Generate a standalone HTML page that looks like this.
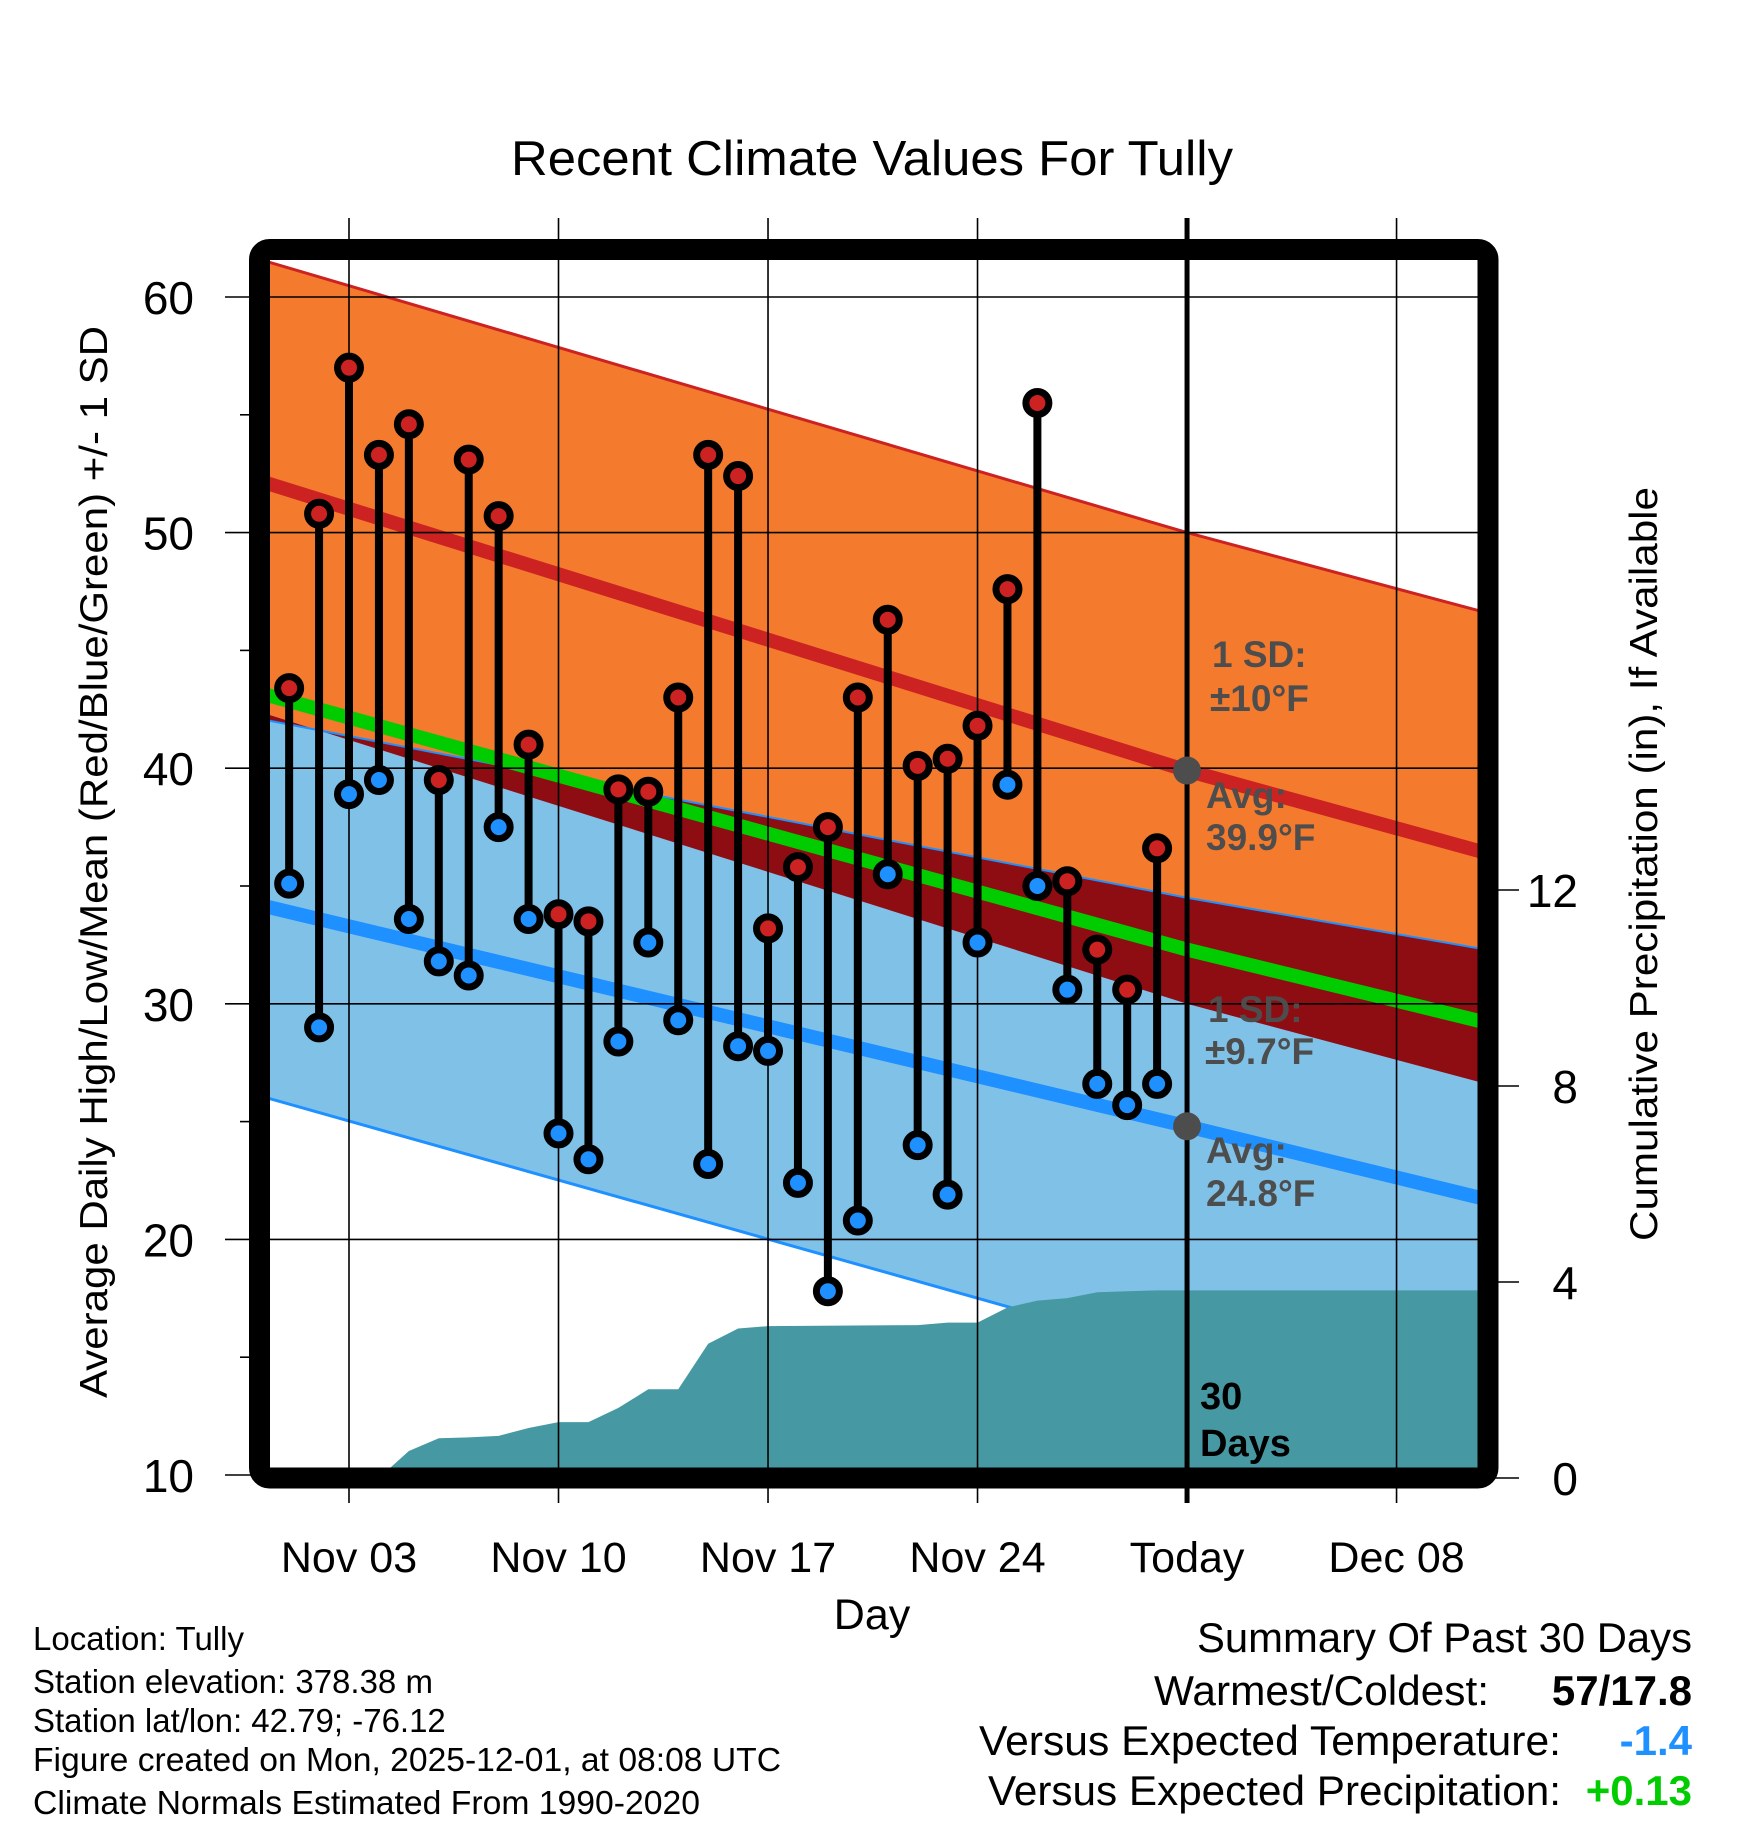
<!DOCTYPE html>
<html><head><meta charset="utf-8"><style>
html,body{margin:0;padding:0;background:#fff;}
svg{display:block;font-family:"Liberation Sans",Arial,sans-serif;}
</style></head><body>
<svg id="chart" width="1748" height="1828" viewBox="0 0 1748 1828" xmlns="http://www.w3.org/2000/svg">
<defs><clipPath id="plotclip"><rect x="259" y="249" width="1229" height="1226"/></clipPath></defs>
<g id="layers"></g>
</svg>
<script>
// ---- data ----
const days = [1,2,3,4,5,6,7,8,9,10,11,12,13,14,15,16,17,18,19,20,21,22,23,24,25,26,27,28,29,30];
const highs = [43.4,50.8,57,53.3,54.6,39.5,53.1,50.7,41.0,33.8,33.5,39.1,39.0,43.0,53.3,52.4,33.2,35.8,37.5,43.0,46.3,40.1,40.4,41.8,47.6,55.5,35.2,32.3,30.6,36.6];
const lows = [35.1,29.0,38.9,39.5,33.6,31.8,31.2,37.5,33.6,24.5,23.4,28.4,32.6,29.3,23.2,28.2,28.0,22.4,17.8,20.8,35.5,24.0,21.9,32.6,39.3,35.0,30.6,26.6,25.7,26.6];
const normDays = [0,31,41];
const normHighPlus = [61.6,50.0,46.6];
const normHigh = [52.2,39.9,36.4];
const normHighMinus = [42.4,30.0,26.6];
const normMean = [43.2,32.3,29.2];
const normLowPlus = [42.1,34.5,32.3];
const normLow = [34.2,24.8,21.7];
const normLowMinus = [26.1,15.0,11.3];
const precipDays = [4,5,6,7,8,9,10,11,12,13,14,15,16,17,22,23,24,25,26,27,28,29,30,41];
const precipCum = [0,0.55,0.81,0.83,0.86,1.02,1.14,1.14,1.43,1.81,1.81,2.74,3.05,3.10,3.12,3.17,3.17,3.48,3.62,3.67,3.79,3.81,3.83,3.83];
const yTicks = [10,20,30,40,50,60];
const yMinor = [15,25,35,45,55];
const pTicks = [0,4,8,12];
const xTickDays = [3,10,17,24,31,38];
const xTickLabels = ['Nov 03','Nov 10','Nov 17','Nov 24','Today','Dec 08'];

// ---- scales ----
const X = d => 349 + (d-3)*29.93;
const Y = v => 297 + (60-v)*23.56;
const P = p => 1478 - p*49;
const NS='http://www.w3.org/2000/svg';
const root=document.getElementById('layers');
function mk(tag,attrs,parent){const e=document.createElementNS(NS,tag);for(const k in attrs)e.setAttribute(k,attrs[k]);(parent||root).appendChild(e);return e;}
const clipG = mk('g',{'clip-path':'url(#plotclip)'});


function line(arr){return normDays.map((d,i)=>X(d)+','+Y(arr[i])).join(' ');}
function band(a,b){return normDays.map((d,i)=>X(d)+','+Y(a[i])).concat(normDays.slice().reverse().map((d,j)=>{const i=normDays.length-1-j;return X(d)+','+Y(b[i]);})).join(' ');}

let e;
e=mk('polygon',{points:band(normHighPlus,normHighMinus),fill:'#f47a2e'},clipG);


e=mk('polygon',{points:band(normLowPlus,normLowMinus),fill:'#80c1e8'},clipG);


const ovTop=normDays.map((d,i)=>Math.min(normLowPlus[i],normHighPlus[i]));
const ovBot=normDays.map((d,i)=>Math.max(normHighMinus[i],normLowMinus[i]));
e=mk('polygon',{points:band(ovTop,ovBot),fill:'#8e0d13'},clipG);


e=mk('polyline',{points:line(normHighPlus),fill:'none',stroke:'#cc2222','stroke-width':3},clipG);


e=mk('polyline',{points:line(normLowPlus),fill:'none',stroke:'#1e90ff','stroke-width':2},clipG);


e=mk('polyline',{points:line(normLowMinus),fill:'none',stroke:'#1e90ff','stroke-width':3},clipG);


e=mk('polyline',{points:line(normMean),fill:'none',stroke:'#00cc00','stroke-width':14},clipG);


e=mk('polyline',{points:line(normHigh),fill:'none',stroke:'#cc2222','stroke-width':14},clipG);


e=mk('polyline',{points:line(normLow),fill:'none',stroke:'#1e90ff','stroke-width':14},clipG);


// precip
e=mk('polygon',{points:X(0)+','+P(0)+' '+X(precipDays[0])+','+P(0)+' '+precipDays.map((d,i)=>X(d)+','+P(precipCum[i])).join(' ')+' '+X(41)+','+P(0),fill:'#4699a3'},clipG);



// gridlines
yTicks.forEach(v=>{
  e=mk('line',{x1:225,x2:1478,y1:Y(v),y2:Y(v),stroke:'#000','stroke-width':1.6});
  
  
  e=mk('text',{x:194,y:Y(v)+17,'text-anchor':'end','font-size':46});
  e.textContent=v;
  
  
});
yMinor.forEach(v=>{
  e=mk('line',{x1:240,x2:250,y1:Y(v),y2:Y(v),stroke:'#000','stroke-width':1.6});
  
  
});
pTicks.forEach(p=>{
  e=mk('line',{x1:1490,x2:1519,y1:P(p),y2:P(p),stroke:'#000','stroke-width':1.6});
  
  
  e=mk('text',{x:1578,y:P(p)+17,'text-anchor':'end','font-size':46});
  e.textContent=p;
  
  
});
xTickDays.forEach((d,i)=>{
  e=mk('line',{x1:X(d),x2:X(d),y1:218,y2:1503,stroke:'#000','stroke-width':d===31?5:1.6});
  
  
  e=mk('text',{x:X(d),y:1572,'text-anchor':'middle','font-size':43});
  e.textContent=xTickLabels[i];
  
  
});

// stems & dots
days.forEach((d,i)=>{
  e=mk('line',{x1:X(d),x2:X(d),y1:Y(highs[i]),y2:Y(lows[i]),stroke:'#000','stroke-width':8});
  
  
});
days.forEach((d,i)=>{
  [[highs[i],'#cc2222','high-point'],[lows[i],'#1e90ff','low-point']].forEach(([v,c,n])=>{
    e=mk('circle',{cx:X(d),cy:Y(v),r:11.5,fill:c,stroke:'#000','stroke-width':7});
    
    
  });
});
// today markers
[[normHigh[1]],[normLow[1]]].forEach(([v])=>{
  e=mk('circle',{cx:X(31),cy:Y(v),r:14,fill:'#4d4d4d'});
  
  
});
// frame
e=mk('rect',{x:259.5,y:249.5,width:1228.5,height:1228.5,rx:10,fill:'none',stroke:'#000','stroke-width':21});


</script>
<svg style="position:absolute;left:0;top:0" width="1748" height="1828" xmlns="http://www.w3.org/2000/svg" font-family="Liberation Sans, Arial, sans-serif">
<text x="872" y="175" text-anchor="middle" font-size="49" textLength="722" lengthAdjust="spacingAndGlyphs">Recent Climate Values For Tully</text>
<text transform="translate(107,862) rotate(-90)" text-anchor="middle" font-size="39" textLength="1072" lengthAdjust="spacingAndGlyphs">Average Daily High/Low/Mean (Red/Blue/Green) +/- 1 SD</text>
<text transform="translate(1657,864) rotate(-90)" text-anchor="middle" font-size="39" textLength="754" lengthAdjust="spacingAndGlyphs">Cumulative Precipitation (in), If Available</text>
<text x="872" y="1629" text-anchor="middle" font-size="43">Day</text>
<g font-weight="bold" font-size="37" fill="#4d4d4d">
<text x="1212" y="667">1 SD:</text>
<text x="1210" y="711">±10°F</text>
<text x="1206" y="808">Avg:</text>
<text x="1206" y="850">39.9°F</text>
<text x="1208" y="1022">1 SD:</text>
<text x="1205" y="1064">±9.7°F</text>
<text x="1206" y="1163">Avg:</text>
<text x="1206" y="1206">24.8°F</text>
</g>
<g font-weight="bold" font-size="38" fill="#000">
<text x="1200" y="1409">30</text>
<text x="1200" y="1456">Days</text>
</g>
<g font-size="33" fill="#000">
<text x="33" y="1650">Location: Tully</text>
<text x="33" y="1693">Station elevation: 378.38 m</text>
<text x="33" y="1732">Station lat/lon: 42.79; -76.12</text>
<text x="33" y="1771" textLength="748" lengthAdjust="spacingAndGlyphs">Figure created on Mon, 2025-12-01, at 08:08 UTC</text>
<text x="33" y="1814" textLength="667" lengthAdjust="spacingAndGlyphs">Climate Normals Estimated From 1990-2020</text>
</g>
<g font-size="42">
<text x="1692" y="1652" text-anchor="end" textLength="495" lengthAdjust="spacingAndGlyphs">Summary Of Past 30 Days</text>
<text x="1154" y="1705" textLength="335" lengthAdjust="spacingAndGlyphs">Warmest/Coldest:</text>
<text x="1692" y="1705" text-anchor="end" font-weight="bold">57/17.8</text>
<text x="979" y="1755" textLength="582" lengthAdjust="spacingAndGlyphs">Versus Expected Temperature:</text>
<text x="1692" y="1755" text-anchor="end" font-weight="bold" fill="#1e90ff">-1.4</text>
<text x="988" y="1805" textLength="573" lengthAdjust="spacingAndGlyphs">Versus Expected Precipitation:</text>
<text x="1692" y="1805" text-anchor="end" font-weight="bold" fill="#00cc00">+0.13</text>
</g>
</svg>
</body></html>
